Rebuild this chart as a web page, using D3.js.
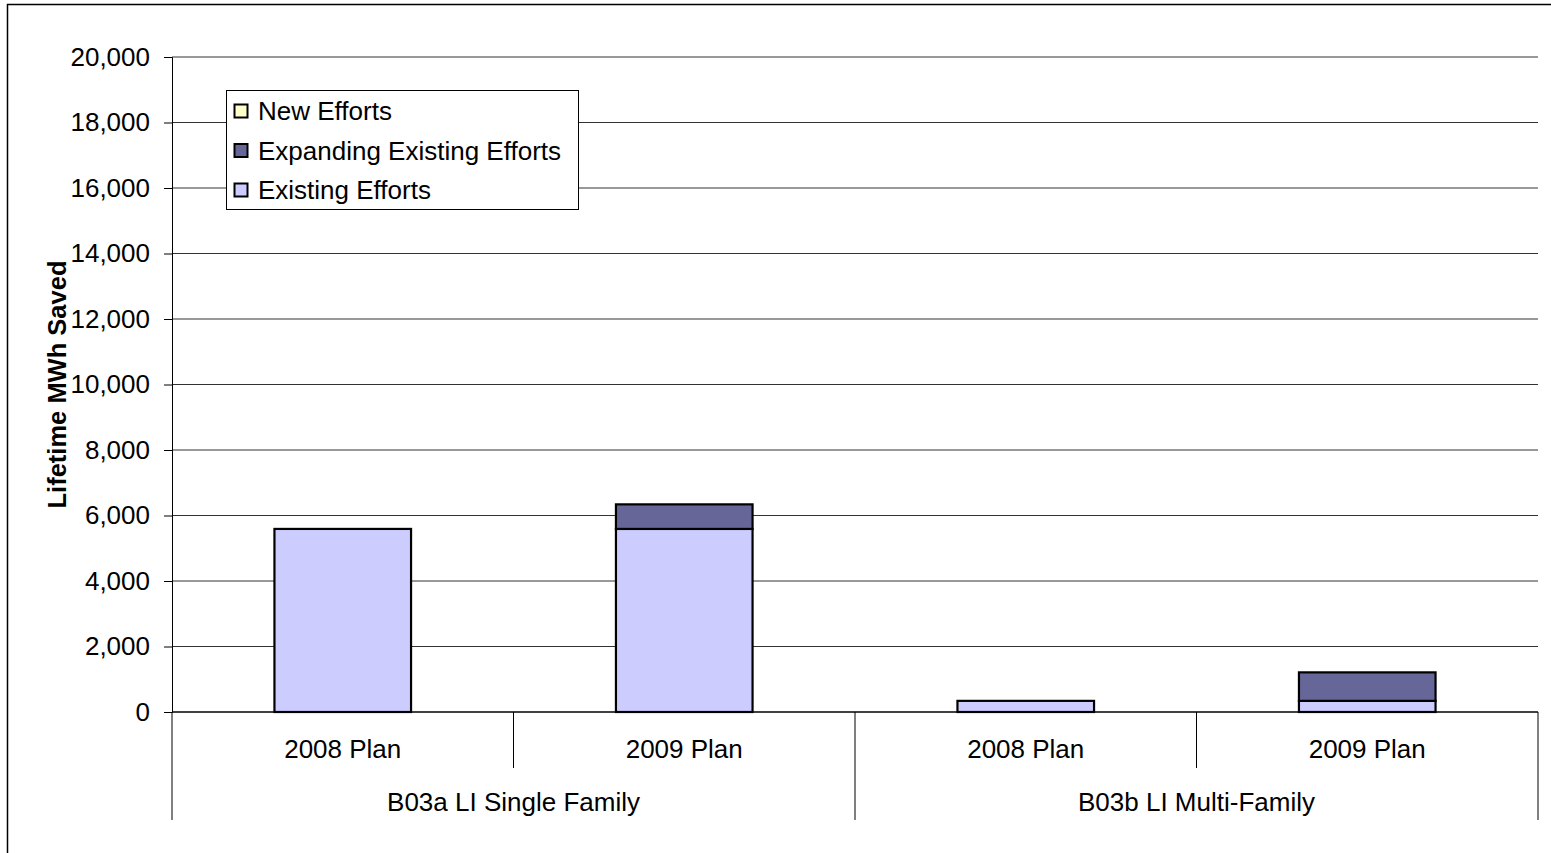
<!DOCTYPE html>
<html>
<head>
<meta charset="utf-8">
<script src="https://cdn.jsdelivr.net/npm/d3@7"></script>
<style>
  html, body { margin: 0; padding: 0; background: #fff; }
  svg { display: block; font-family: Arial, "Liberation Sans", sans-serif; }
</style>
</head>
<body>
<svg id="chart" width="1551" height="853"></svg>
<script>
// Program groups and plan years shown on the two-level category axis
const groups = ["B03a LI Single Family", "B03b LI Multi-Family"];
const plans = ["2008 Plan", "2009 Plan"];

// Lifetime MWh saved per bar (group × plan order)
const existingEfforts = [5590, 5590, 340, 340];
const expandingEfforts = [0, 750, 0, 870];
const newEfforts = [0, 0, 0, 0];

const seriesNames = ["Existing Efforts", "Expanding Existing Efforts", "New Efforts"];
const seriesColors = ["#CCCCFF", "#666699", "#FFFFCC"];
const yTicks = [0, 2000, 4000, 6000, 8000, 10000, 12000, 14000, 16000, 18000, 20000];

const svg = d3.select("#chart");
const W = 1551, H = 853;
const plot = { left: 172, right: 1538, top: 57, bottom: 712 };
const FONT = 26;

// Outer chart frame
svg.append("rect")
  .attr("x", 7.5).attr("y", 4.5)
  .attr("width", W).attr("height", H)
  .attr("fill", "#fff").attr("stroke", "#000").attr("stroke-width", 1.5);

// Build one row per bar
const rows = [];
groups.forEach((g, gi) => plans.forEach((p, pi) => {
  const i = gi * plans.length + pi;
  rows.push({
    key: g + "|" + p, group: g, plan: p,
    "Existing Efforts": existingEfforts[i],
    "Expanding Existing Efforts": expandingEfforts[i],
    "New Efforts": newEfforts[i]
  });
}));

const x = d3.scaleBand()
  .domain(rows.map(d => d.key))
  .range([plot.left, plot.right])
  .paddingInner(0).paddingOuter(0);

const y = d3.scaleLinear().domain([0, 20000]).range([plot.bottom, plot.top]);

// Horizontal gridlines
svg.append("g")
  .selectAll("line")
  .data(yTicks.filter(t => t > 0))
  .join("line")
  .attr("x1", plot.left).attr("x2", plot.right)
  .attr("y1", d => y(d)).attr("y2", d => y(d))
  .attr("stroke", "#333").attr("stroke-width", 1);

// Y axis
const yAxis = svg.append("g")
  .attr("transform", `translate(${plot.left},0)`)
  .call(d3.axisLeft(y).tickValues(yTicks).tickSize(8).tickPadding(14)
    .tickFormat(d3.format(",")));
yAxis.select(".domain").attr("stroke", "#000").attr("stroke-width", 1);
yAxis.selectAll(".tick line").attr("stroke", "#000");
yAxis.selectAll(".tick text")
  .attr("font-size", FONT).attr("fill", "#000")
  .attr("font-family", "Arial, 'Liberation Sans', sans-serif");

// Axis title
svg.append("text")
  .attr("transform", `translate(66,${(plot.top + plot.bottom) / 2}) rotate(-90)`)
  .attr("text-anchor", "middle")
  .attr("font-size", 25.5).attr("font-weight", "bold")
  .text("Lifetime MWh Saved");

// Stacked bars
const stack = d3.stack().keys(seriesNames);
const stacked = stack(rows);
const color = d3.scaleOrdinal().domain(seriesNames).range(seriesColors);
const barW = x.bandwidth() * 0.4;

svg.append("g")
  .selectAll("g")
  .data(stacked)
  .join("g")
  .attr("fill", d => color(d.key))
  .selectAll("rect")
  .data(d => d.filter(s => s[1] - s[0] > 0))
  .join("rect")
  .attr("x", d => x(d.data.key) + (x.bandwidth() - barW) / 2)
  .attr("width", barW)
  .attr("y", d => y(d[1]))
  .attr("height", d => y(d[0]) - y(d[1]))
  .attr("stroke", "#000").attr("stroke-width", 2.2);

// Category axis baseline
svg.append("line")
  .attr("x1", plot.left).attr("x2", plot.right)
  .attr("y1", plot.bottom).attr("y2", plot.bottom)
  .attr("stroke", "#000").attr("stroke-width", 1.5);

// Dividers: short ones between plans, long ones between groups
const catAxis = svg.append("g");
rows.forEach((d, i) => {
  if (i === 0) return;
  const isGroupEdge = i % plans.length === 0;
  catAxis.append("line")
    .attr("x1", x(d.key)).attr("x2", x(d.key))
    .attr("y1", plot.bottom).attr("y2", isGroupEdge ? 820 : 768)
    .attr("stroke", "#000").attr("stroke-width", 1);
});
[plot.left, plot.right].forEach(px => {
  catAxis.append("line")
    .attr("x1", px).attr("x2", px)
    .attr("y1", plot.bottom).attr("y2", 820)
    .attr("stroke", "#000").attr("stroke-width", 1);
});

// Plan labels
catAxis.selectAll("text.plan")
  .data(rows)
  .join("text")
  .attr("class", "plan")
  .attr("x", d => x(d.key) + x.bandwidth() / 2)
  .attr("y", 758)
  .attr("text-anchor", "middle")
  .attr("font-size", FONT)
  .text(d => d.plan);

// Group labels
catAxis.selectAll("text.group")
  .data(groups)
  .join("text")
  .attr("class", "group")
  .attr("x", (g, gi) => {
    const first = x(rows[gi * plans.length].key);
    const last = x(rows[gi * plans.length + plans.length - 1].key) + x.bandwidth();
    return (first + last) / 2;
  })
  .attr("y", 811)
  .attr("text-anchor", "middle")
  .attr("font-size", FONT)
  .text(g => g);

// Legend
const legend = svg.append("g").attr("transform", "translate(226,90)");
legend.append("rect")
  .attr("x", 0.5).attr("y", 0.5)
  .attr("width", 352).attr("height", 119)
  .attr("fill", "#fff").attr("stroke", "#000").attr("stroke-width", 1);
const legendOrder = ["New Efforts", "Expanding Existing Efforts", "Existing Efforts"];
legendOrder.forEach((name, i) => {
  const cy = 21 + i * 39.5;
  legend.append("rect")
    .attr("x", 8.5).attr("y", cy - 6.5)
    .attr("width", 13).attr("height", 13)
    .attr("fill", color(name)).attr("stroke", "#000").attr("stroke-width", 2);
  legend.append("text")
    .attr("x", 32).attr("y", cy + 9)
    .attr("font-size", FONT)
    .text(name);
});
</script>
</body>
</html>
